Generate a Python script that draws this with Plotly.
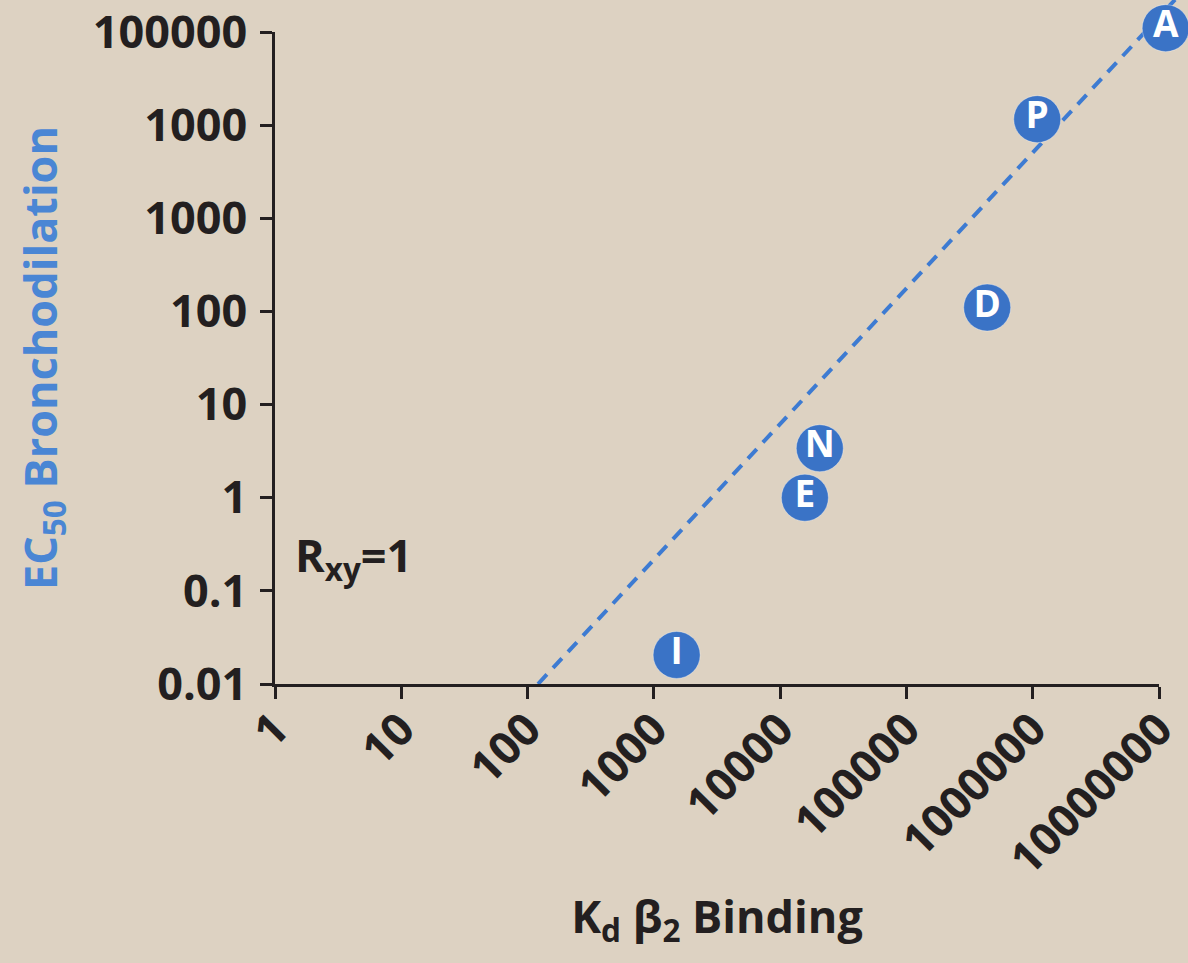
import plotly.graph_objects as go

# ---- data ----
drug_labels = ["I", "E", "N", "D", "P", "A"]
kd_binding = [1515, 15700, 20600, 436000, 1086000, 11300000]
ec50_broncho = [0.0205, 1.0, 3.4, 110, 11600, 110000]

fit_x = [121, 13400000]
fit_y = [0.01, 222000]

x_tickvals = [1, 10, 100, 1000, 10000, 100000, 1000000, 10000000]
x_ticktext = ["1", "10", "100", "1000", "10000", "100000", "1000000", "10000000"]
y_tickvals = [0.01, 0.1, 1, 10, 100, 1000, 10000, 100000]
y_ticktext = ["0.01", "0.1", "1", "10", "100", "1000", "1000", "100000"]

BG = "#ddd2c2"
AX = "#231f20"
MARK = "#3a73c6"
LINE = "#3d7bd2"
TITLE_BLUE = "#4a86d4"
FONT = "Open Sans"

W, H = 1188, 963
ML, MR, MT, MB = 275, 10, 0, 279
pw = W - ML - MR
ph = H - MT - MB
x_px_end = 1159 - ML
y_px_end = 684 - 32

fig = go.Figure()

# empty trace so the visible (tick-bearing) axes pair is created
fig.add_trace(go.Scatter(x=[], y=[], xaxis="x", yaxis="y", mode="markers",
                         showlegend=False, hoverinfo="skip"))

fig.add_trace(go.Scatter(
    x=fit_x, y=fit_y, mode="lines", xaxis="x2", yaxis="y2",
    line=dict(color=LINE, width=4, dash="13px,9px"),
    hoverinfo="skip", showlegend=False,
))

fig.add_trace(go.Scatter(
    x=kd_binding, y=ec50_broncho, mode="markers+text", xaxis="x2", yaxis="y2",
    text=drug_labels, textposition="middle center",
    textfont=dict(family=FONT, size=37, color="white", weight=700),
    marker=dict(size=47, color=MARK, line=dict(color="rgba(255,255,255,0.35)", width=1)),
    cliponaxis=False, showlegend=False,
))

tickfont = dict(family=FONT, size=45, color=AX, weight=700)

fig.update_layout(
    width=W, height=H,
    margin=dict(l=ML, r=MR, t=MT, b=MB, autoexpand=False),
    paper_bgcolor=BG, plot_bgcolor="rgba(0,0,0,0)",
    xaxis=dict(
        type="log", range=[0, 7], domain=[0, x_px_end / pw], anchor="y", automargin=False,
        showline=True, linecolor=AX, linewidth=2.5,
        ticks="outside", ticklen=12, tickwidth=2.5, tickcolor=AX,
        tickvals=x_tickvals, ticktext=x_ticktext, tickangle=-45,
        tickfont=tickfont, showgrid=False, zeroline=False,
        ticklabelstandoff=-14, ticklabeloverflow="allow",
        title=dict(text="K<sub>d</sub> β<sub>2</sub> Binding",
                   font=dict(family=FONT, size=45, color=AX, weight=700), standoff=16),
    ),
    yaxis=dict(
        type="log", range=[-2, 5], domain=[0, y_px_end / ph], anchor="x", automargin=False,
        showline=True, linecolor=AX, linewidth=2.5,
        ticks="outside", ticklen=12, tickwidth=2.5, tickcolor=AX,
        tickvals=y_tickvals, ticktext=y_ticktext,
        tickfont=tickfont, showgrid=False, zeroline=False, ticklabelstandoff=4,
        ticklabeloverflow="allow",
        title=dict(text="EC<sub>50</sub> Bronchodilation",
                   font=dict(family=FONT, size=45, color=TITLE_BLUE, weight=700), standoff=22),
    ),
    xaxis2=dict(type="log", range=[0, 7 * pw / x_px_end], domain=[0, 1], anchor="y2",
                visible=False, showgrid=False, zeroline=False, automargin=False),
    yaxis2=dict(type="log", range=[-2, -2 + 7 * ph / y_px_end], domain=[0, 1], anchor="x2",
                visible=False, showgrid=False, zeroline=False, automargin=False),
    annotations=[dict(
        text="R<sub>xy</sub>=1", xref="paper", yref="paper",
        x=(293 - ML) / pw, y=(684 - 557) / ph, xanchor="left", yanchor="middle",
        showarrow=False, font=dict(family=FONT, size=45, color=AX, weight=700),
    )],
)

fig.write_html(
    "out.html",
    config={"displayModeBar": False},
    post_script="document.body.style.margin='0';document.body.style.overflow='hidden';",
)
